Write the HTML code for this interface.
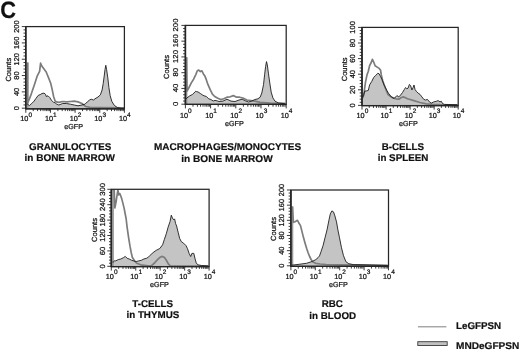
<!DOCTYPE html>
<html><head><meta charset="utf-8"><style>
html,body{margin:0;padding:0;background:#fff;}
body{width:520px;height:351px;overflow:hidden;}
svg{display:block;will-change:transform;}
text{font-family:"Liberation Sans", sans-serif;fill:#111;text-rendering:geometricPrecision;}
.sm{stroke:#111;stroke-width:0.22px;}
.bd{stroke:#111;stroke-width:0.2px;}
</style></head><body>
<svg width="520" height="351" viewBox="0 0 520 351">
<rect width="520" height="351" fill="#fff"/>
<clipPath id="cp1"><rect x="25.8" y="26.6" width="98.6" height="82.2"/></clipPath>
<g clip-path="url(#cp1)">
<polygon points="26.3,108.8 26.3,104 27.5,104.2 29.4,105.6 31.7,103.5 34,101.2 35.9,98.5 38.2,95.4 40.2,94.6 42,93.5 44,93.1 45.5,94.3 46.3,96.5 48,95.8 49.9,97.7 51.4,100.2 53.6,102.4 55,102.7 56.6,104 58.8,105 62.7,103.5 66.5,103.5 70.4,104.2 74.2,105 78,105.8 81.9,105 85,104.2 87.3,101.9 89.6,100 91.2,99.2 93.5,100 95,98.8 98,97 100.4,94.8 102.1,90 103.2,83.5 104.2,76.1 105,69.6 105.8,65.3 106.6,69.6 107.8,77.8 108.9,87.5 110.2,95.7 111.8,101.3 114.3,105.4 117.5,107.6 120.8,108.3 124,108.5 124,108.8" fill="#c4c4c4" stroke="none"/>
<line x1="27.6" y1="108.8" x2="27.6" y2="62.5" stroke="#9a9a9a" stroke-width="1.8"/>
<polyline points="27.6,62.5 27.6,103 29.4,99 31.4,93.6 34.4,84.7 37.3,75.8 39.6,71.3 40.6,63.2 41.8,66.1 44,69.1 46.2,72 48.4,77.3 50.7,83.2 52.1,89.1 53.6,96.5 55.1,101 56.5,101.9 58.8,102.3 62.7,101.5 66.5,101.9 70.4,101.5 74.2,101.2 78,101.9 81.9,103.5 84.2,105.4 85.8,106.5 90,107.3 100,107.6 124,107.9" fill="none" stroke="#7c7c7c" stroke-width="1.7" stroke-linejoin="round"/>
<polyline points="26.3,104 27.5,104.2 29.4,105.6 31.7,103.5 34,101.2 35.9,98.5 38.2,95.4 40.2,94.6 42,93.5 44,93.1 45.5,94.3 46.3,96.5 48,95.8 49.9,97.7 51.4,100.2 53.6,102.4 55,102.7 56.6,104 58.8,105 62.7,103.5 66.5,103.5 70.4,104.2 74.2,105 78,105.8 81.9,105 85,104.2 87.3,101.9 89.6,100 91.2,99.2 93.5,100 95,98.8 98,97 100.4,94.8 102.1,90 103.2,83.5 104.2,76.1 105,69.6 105.8,65.3 106.6,69.6 107.8,77.8 108.9,87.5 110.2,95.7 111.8,101.3 114.3,105.4 117.5,107.6 120.8,108.3 124,108.5" fill="none" stroke="#1e1e1e" stroke-width="0.9" stroke-linejoin="round"/>
</g>
<rect x="25.8" y="26.6" width="98.6" height="82.2" fill="none" stroke="#262626" stroke-width="1.25"/>
<line x1="25.8" y1="26.6" x2="25.8" y2="109.3" stroke="#262626" stroke-width="1.6"/>
<line x1="25.8" y1="108.8" x2="124.4" y2="108.8" stroke="#262626" stroke-width="1.3"/>
<path d="M25.8 108.2h-4M25.8 104.94h-2.3M25.8 101.67h-2.3M25.8 98.41h-2.3M25.8 95.14h-2.3M25.8 91.88h-4M25.8 88.62h-2.3M25.8 85.35h-2.3M25.8 82.09h-2.3M25.8 78.82h-2.3M25.8 75.56h-4M25.8 72.3h-2.3M25.8 69.03h-2.3M25.8 65.77h-2.3M25.8 62.5h-2.3M25.8 59.24h-4M25.8 55.98h-2.3M25.8 52.71h-2.3M25.8 49.45h-2.3M25.8 46.18h-2.3M25.8 42.92h-4M25.8 39.66h-2.3M25.8 36.39h-2.3M25.8 33.13h-2.3M25.8 29.86h-2.3M25.8 26.6h-4" stroke="#262626" stroke-width="0.9" fill="none"/>
<path d="M25.8 108.8v4M33.22 108.8v2.3M37.56 108.8v2.3M40.64 108.8v2.3M43.03 108.8v2.3M44.98 108.8v2.3M46.63 108.8v2.3M48.06 108.8v2.3M49.32 108.8v2.3M50.45 108.8v4M57.87 108.8v2.3M62.21 108.8v2.3M65.29 108.8v2.3M67.68 108.8v2.3M69.63 108.8v2.3M71.28 108.8v2.3M72.71 108.8v2.3M73.97 108.8v2.3M75.1 108.8v4M82.52 108.8v2.3M86.86 108.8v2.3M89.94 108.8v2.3M92.33 108.8v2.3M94.28 108.8v2.3M95.93 108.8v2.3M97.36 108.8v2.3M98.62 108.8v2.3M99.75 108.8v4M107.17 108.8v2.3M111.51 108.8v2.3M114.59 108.8v2.3M116.98 108.8v2.3M118.93 108.8v2.3M120.58 108.8v2.3M122.01 108.8v2.3M123.27 108.8v2.3M124.4 108.8v4" stroke="#262626" stroke-width="0.9" fill="none"/>
<text transform="translate(18.5 108.2) rotate(-90) scale(1.12 1.08)" class="sm" text-anchor="middle" font-size="6.6">0</text>
<text transform="translate(18.5 91.88) rotate(-90) scale(1.12 1.08)" class="sm" text-anchor="middle" font-size="6.6">40</text>
<text transform="translate(18.5 75.56) rotate(-90) scale(1.12 1.08)" class="sm" text-anchor="middle" font-size="6.6">80</text>
<text transform="translate(18.5 59.24) rotate(-90) scale(1.12 1.08)" class="sm" text-anchor="middle" font-size="6.6">120</text>
<text transform="translate(18.5 42.92) rotate(-90) scale(1.12 1.08)" class="sm" text-anchor="middle" font-size="6.6">160</text>
<text transform="translate(18.5 26.6) rotate(-90) scale(1.12 1.08)" class="sm" text-anchor="middle" font-size="6.6">200</text>
<text transform="translate(10.7 69.7) rotate(-90)" class="sm" text-anchor="middle" font-size="7.5">Counts</text>
<text x="26.2" y="121.2" font-size="7.3" class="sm" text-anchor="middle">10<tspan font-size="6.5" dy="-4.4">0</tspan></text>
<text x="50.85" y="121.2" font-size="7.3" class="sm" text-anchor="middle">10<tspan font-size="6.5" dy="-4.4">1</tspan></text>
<text x="75.5" y="121.2" font-size="7.3" class="sm" text-anchor="middle">10<tspan font-size="6.5" dy="-4.4">2</tspan></text>
<text x="100.15" y="121.2" font-size="7.3" class="sm" text-anchor="middle">10<tspan font-size="6.5" dy="-4.4">3</tspan></text>
<text x="124.8" y="121.2" font-size="7.3" class="sm" text-anchor="middle">10<tspan font-size="6.5" dy="-4.4">4</tspan></text>
<text x="73.6" y="129.2" font-size="7.2" class="sm" text-anchor="middle">eGFP</text>
<clipPath id="cp2"><rect x="185.4" y="25.4" width="100.8" height="79"/></clipPath>
<g clip-path="url(#cp2)">
<polygon points="185.9,104.4 185.9,99 186.8,98 189.8,95.8 192.4,94.5 195.8,91.2 196.4,91.5 198.1,92 200.4,93.5 202.6,95 204.1,95.8 206.4,96.5 208.7,98.8 210.9,99.5 213.2,101 215,100.4 217.7,101 219,101.5 223,101.1 227,99.2 231,101.1 235,101.5 239,100 242.1,99.2 245.3,100.8 248.5,102 251.7,101.1 254.6,99.6 257.9,98.8 260.2,97.1 261.8,93 263.5,84.7 264.6,74.8 265.6,66.5 266.5,61.6 267.3,64.9 268.4,73.1 269.8,83.1 271.2,92.1 272.9,97.9 275,101.2 278.4,102.9 284.4,103.7 285.6,104 285.6,104.4" fill="#c4c4c4" stroke="none"/>
<line x1="186.5" y1="104.4" x2="186.5" y2="57.3" stroke="#9a9a9a" stroke-width="1.8"/>
<polyline points="186.5,57.3 187,91.2 189,87.5 191.3,82.9 193.6,79.2 195.8,74.6 197.3,70.8 198.8,70.1 200.4,71.6 201.9,70.8 203.4,73.9 204.9,76.1 206.4,79.9 207.9,84.4 210.2,89.7 212.4,94.2 214.7,96.5 217.4,98 220.6,99.6 223.8,98.8 227,97.2 230.2,96.8 233.4,95.6 236.5,97.2 239.7,97.2 242.9,98 246.9,100 250.9,100.6 255,101.2 260,102.3 270,103 285,103.4" fill="none" stroke="#7c7c7c" stroke-width="1.7" stroke-linejoin="round"/>
<polyline points="185.9,99 186.8,98 189.8,95.8 192.4,94.5 195.8,91.2 196.4,91.5 198.1,92 200.4,93.5 202.6,95 204.1,95.8 206.4,96.5 208.7,98.8 210.9,99.5 213.2,101 215,100.4 217.7,101 219,101.5 223,101.1 227,99.2 231,101.1 235,101.5 239,100 242.1,99.2 245.3,100.8 248.5,102 251.7,101.1 254.6,99.6 257.9,98.8 260.2,97.1 261.8,93 263.5,84.7 264.6,74.8 265.6,66.5 266.5,61.6 267.3,64.9 268.4,73.1 269.8,83.1 271.2,92.1 272.9,97.9 275,101.2 278.4,102.9 284.4,103.7 285.6,104" fill="none" stroke="#1e1e1e" stroke-width="0.9" stroke-linejoin="round"/>
</g>
<rect x="185.4" y="25.4" width="100.8" height="79" fill="none" stroke="#262626" stroke-width="1.25"/>
<line x1="185.4" y1="25.4" x2="185.4" y2="104.9" stroke="#262626" stroke-width="1.6"/>
<line x1="185.4" y1="104.4" x2="286.2" y2="104.4" stroke="#262626" stroke-width="1.3"/>
<path d="M185.4 104.2h-4M185.4 101.05h-2.3M185.4 97.9h-2.3M185.4 94.74h-2.3M185.4 91.59h-2.3M185.4 88.44h-4M185.4 85.29h-2.3M185.4 82.14h-2.3M185.4 78.98h-2.3M185.4 75.83h-2.3M185.4 72.68h-4M185.4 69.53h-2.3M185.4 66.38h-2.3M185.4 63.22h-2.3M185.4 60.07h-2.3M185.4 56.92h-4M185.4 53.77h-2.3M185.4 50.62h-2.3M185.4 47.46h-2.3M185.4 44.31h-2.3M185.4 41.16h-4M185.4 38.01h-2.3M185.4 34.86h-2.3M185.4 31.7h-2.3M185.4 28.55h-2.3M185.4 25.4h-4" stroke="#262626" stroke-width="0.9" fill="none"/>
<path d="M185.4 104.4v4M192.99 104.4v2.3M197.42 104.4v2.3M200.57 104.4v2.3M203.01 104.4v2.3M205.01 104.4v2.3M206.7 104.4v2.3M208.16 104.4v2.3M209.45 104.4v2.3M210.6 104.4v4M218.19 104.4v2.3M222.62 104.4v2.3M225.77 104.4v2.3M228.21 104.4v2.3M230.21 104.4v2.3M231.9 104.4v2.3M233.36 104.4v2.3M234.65 104.4v2.3M235.8 104.4v4M243.39 104.4v2.3M247.82 104.4v2.3M250.97 104.4v2.3M253.41 104.4v2.3M255.41 104.4v2.3M257.1 104.4v2.3M258.56 104.4v2.3M259.85 104.4v2.3M261 104.4v4M268.59 104.4v2.3M273.02 104.4v2.3M276.17 104.4v2.3M278.61 104.4v2.3M280.61 104.4v2.3M282.3 104.4v2.3M283.76 104.4v2.3M285.05 104.4v2.3M286.2 104.4v4" stroke="#262626" stroke-width="0.9" fill="none"/>
<text transform="translate(178.4 103.8) rotate(-90) scale(1.17 1.08)" class="sm" text-anchor="middle" font-size="6.6">0</text>
<text transform="translate(178.4 88.04) rotate(-90) scale(1.17 1.08)" class="sm" text-anchor="middle" font-size="6.6">40</text>
<text transform="translate(178.4 72.28) rotate(-90) scale(1.17 1.08)" class="sm" text-anchor="middle" font-size="6.6">80</text>
<text transform="translate(178.4 56.52) rotate(-90) scale(1.17 1.08)" class="sm" text-anchor="middle" font-size="6.6">120</text>
<text transform="translate(178.4 40.76) rotate(-90) scale(1.17 1.08)" class="sm" text-anchor="middle" font-size="6.6">160</text>
<text transform="translate(178.4 25) rotate(-90) scale(1.17 1.08)" class="sm" text-anchor="middle" font-size="6.6">200</text>
<text transform="translate(168.6 67) rotate(-90)" class="sm" text-anchor="middle" font-size="7.5">Counts</text>
<text x="185.8" y="117.5" font-size="7.3" class="sm" text-anchor="middle">10<tspan font-size="6.5" dy="-4.6">0</tspan></text>
<text x="211" y="117.5" font-size="7.3" class="sm" text-anchor="middle">10<tspan font-size="6.5" dy="-4.6">1</tspan></text>
<text x="236.2" y="117.5" font-size="7.3" class="sm" text-anchor="middle">10<tspan font-size="6.5" dy="-4.6">2</tspan></text>
<text x="261.4" y="117.5" font-size="7.3" class="sm" text-anchor="middle">10<tspan font-size="6.5" dy="-4.6">3</tspan></text>
<text x="286.6" y="117.5" font-size="7.3" class="sm" text-anchor="middle">10<tspan font-size="6.5" dy="-4.6">4</tspan></text>
<text x="234.3" y="125.9" font-size="7.2" class="sm" text-anchor="middle">eGFP</text>
<clipPath id="cp3"><rect x="362" y="27.4" width="96.2" height="78.2"/></clipPath>
<g clip-path="url(#cp3)">
<polygon points="362.4,105.6 362.4,97.5 363.5,95.8 364.8,91 366.2,91 368.3,90.4 369.6,84.9 371.7,81.5 373.8,77.3 375.8,75.3 377.9,73.2 379.2,73.9 380.6,76.7 382,79.4 384,84.9 386.8,90.4 388.5,93.3 391.4,97 394.1,98.5 396.9,95.6 398.8,96.9 400.6,95 402.5,92.5 404.4,89.4 405.6,87.5 406.9,88.8 408.1,88.1 409.4,84.4 410.6,85.6 411.9,90 413.1,87.5 414,85 415,89.4 416.3,91.3 418.1,93.1 420,94.4 421.9,96.9 423.8,99.4 425.6,100 427.5,99.4 429.4,101.9 431.3,103.1 433.8,101.9 436.3,101.3 438.1,100.6 440,101.9 441.3,101.3 442.5,103.5 444.4,104.4 457.5,104.8 457.5,105.6" fill="#c4c4c4" stroke="none"/>
<polyline points="362.8,98 364.2,91.7 365.5,82.1 366.9,75.3 368.3,71.2 369.6,65.7 371,63 372.4,59.3 373.8,62.3 375.1,65.7 377.2,67.1 379.2,68.4 380.6,70.3 381.3,75 382.7,80.8 384.7,86.2 386.8,91.7 388,94.5 390.5,96.4 393.2,97.9 395.9,98.8 398.8,99.2 401.3,97.5 403.8,96.9 407.5,98.8 413.8,100.6 420,102.5 426.3,103.8 432.5,104.4 440,104.7 457.5,104.9" fill="none" stroke="#7c7c7c" stroke-width="1.7" stroke-linejoin="round"/>
<polyline points="362.4,97.5 363.5,95.8 364.8,91 366.2,91 368.3,90.4 369.6,84.9 371.7,81.5 373.8,77.3 375.8,75.3 377.9,73.2 379.2,73.9 380.6,76.7 382,79.4 384,84.9 386.8,90.4 388.5,93.3 391.4,97 394.1,98.5 396.9,95.6 398.8,96.9 400.6,95 402.5,92.5 404.4,89.4 405.6,87.5 406.9,88.8 408.1,88.1 409.4,84.4 410.6,85.6 411.9,90 413.1,87.5 414,85 415,89.4 416.3,91.3 418.1,93.1 420,94.4 421.9,96.9 423.8,99.4 425.6,100 427.5,99.4 429.4,101.9 431.3,103.1 433.8,101.9 436.3,101.3 438.1,100.6 440,101.9 441.3,101.3 442.5,103.5 444.4,104.4 457.5,104.8" fill="none" stroke="#1e1e1e" stroke-width="0.9" stroke-linejoin="round"/>
</g>
<rect x="362" y="27.4" width="96.2" height="78.2" fill="none" stroke="#262626" stroke-width="1.25"/>
<line x1="362" y1="27.4" x2="362" y2="106.1" stroke="#262626" stroke-width="1.6"/>
<line x1="362" y1="105.6" x2="458.2" y2="105.6" stroke="#262626" stroke-width="1.3"/>
<path d="M362 105.4h-4M362 102.28h-2.3M362 99.16h-2.3M362 96.04h-2.3M362 92.92h-2.3M362 89.8h-4M362 86.68h-2.3M362 83.56h-2.3M362 80.44h-2.3M362 77.32h-2.3M362 74.2h-4M362 71.08h-2.3M362 67.96h-2.3M362 64.84h-2.3M362 61.72h-2.3M362 58.6h-4M362 55.48h-2.3M362 52.36h-2.3M362 49.24h-2.3M362 46.12h-2.3M362 43h-4M362 39.88h-2.3M362 36.76h-2.3M362 33.64h-2.3M362 30.52h-2.3M362 27.4h-4" stroke="#262626" stroke-width="0.9" fill="none"/>
<path d="M362 105.6v4M369.24 105.6v2.3M373.47 105.6v2.3M376.48 105.6v2.3M378.81 105.6v2.3M380.71 105.6v2.3M382.32 105.6v2.3M383.72 105.6v2.3M384.95 105.6v2.3M386.05 105.6v4M393.29 105.6v2.3M397.52 105.6v2.3M400.53 105.6v2.3M402.86 105.6v2.3M404.76 105.6v2.3M406.37 105.6v2.3M407.77 105.6v2.3M409 105.6v2.3M410.1 105.6v4M417.34 105.6v2.3M421.57 105.6v2.3M424.58 105.6v2.3M426.91 105.6v2.3M428.81 105.6v2.3M430.42 105.6v2.3M431.82 105.6v2.3M433.05 105.6v2.3M434.15 105.6v4M441.39 105.6v2.3M445.62 105.6v2.3M448.63 105.6v2.3M450.96 105.6v2.3M452.86 105.6v2.3M454.47 105.6v2.3M455.87 105.6v2.3M457.1 105.6v2.3M458.2 105.6v4" stroke="#262626" stroke-width="0.9" fill="none"/>
<text transform="translate(355 105.4) rotate(-90) scale(1.1 1.08)" class="sm" text-anchor="middle" font-size="6.8">0</text>
<text transform="translate(355 89.8) rotate(-90) scale(1.1 1.08)" class="sm" text-anchor="middle" font-size="6.8">20</text>
<text transform="translate(355 74.2) rotate(-90) scale(1.1 1.08)" class="sm" text-anchor="middle" font-size="6.8">40</text>
<text transform="translate(355 58.6) rotate(-90) scale(1.1 1.08)" class="sm" text-anchor="middle" font-size="6.8">60</text>
<text transform="translate(355 43) rotate(-90) scale(1.1 1.08)" class="sm" text-anchor="middle" font-size="6.8">80</text>
<text transform="translate(355 27.4) rotate(-90) scale(1.1 1.08)" class="sm" text-anchor="middle" font-size="6.8">100</text>
<text transform="translate(346.5 69.4) rotate(-90)" class="sm" text-anchor="middle" font-size="7.5">Counts</text>
<text x="362.4" y="118.3" font-size="7.3" class="sm" text-anchor="middle">10<tspan font-size="6.5" dy="-5">0</tspan></text>
<text x="386.45" y="118.3" font-size="7.3" class="sm" text-anchor="middle">10<tspan font-size="6.5" dy="-5">1</tspan></text>
<text x="410.5" y="118.3" font-size="7.3" class="sm" text-anchor="middle">10<tspan font-size="6.5" dy="-5">2</tspan></text>
<text x="434.55" y="118.3" font-size="7.3" class="sm" text-anchor="middle">10<tspan font-size="6.5" dy="-5">3</tspan></text>
<text x="458.6" y="118.3" font-size="7.3" class="sm" text-anchor="middle">10<tspan font-size="6.5" dy="-5">4</tspan></text>
<text x="408.3" y="126.1" font-size="7.2" class="sm" text-anchor="middle">eGFP</text>
<clipPath id="cp4"><rect x="111.3" y="189.3" width="97.8" height="77.3"/></clipPath>
<g clip-path="url(#cp4)">
<polygon points="112.4,266.6 112.4,262 113.1,262.2 114.9,260.6 115.7,260.9 118.3,259.6 120.8,259 123.4,257.7 125.3,256.4 127.2,258.3 129.2,259 131.7,260.3 133.6,260.9 136.2,261.5 138.8,260.9 141.3,260.3 143.9,259 146.5,258.3 148.7,256.9 152.4,253.1 156.1,250.4 159.8,248.5 162.6,244.8 164.4,239.3 166.3,233.7 168.1,227.2 170,221.7 171.3,215.2 172.4,218 173.7,219.8 174.6,218.9 175.6,223.5 176.6,226 178.1,232.2 179.7,238.5 181.3,241.6 183.6,243.2 186,245.6 187.5,248.7 189.1,253.4 190.7,256.5 191.9,253.4 193.8,253.4 195.1,258.9 196.2,262.8 197.7,264.8 201.6,265.5 208.5,266 208.5,266.6" fill="#c4c4c4" stroke="none"/>
<line x1="113" y1="266.6" x2="113" y2="189.6" stroke="#9a9a9a" stroke-width="1.8"/>
<polyline points="113,189.6 114.2,190 114.8,208 116,202.3 117.3,193.5 117.9,189.8 118.6,194.8 119.8,193.5 120.8,196 121.7,198.6 123,203.6 124.2,208.6 125.2,214 126.1,218.5 127.1,227.1 128.6,237.6 130.1,246.7 131.2,252.5 132.3,257.3 134.6,261 136.9,263.3 140.6,264.8 148,265.8 151.5,265.6 154.5,263 157.5,259.6 160,257.3 162.3,256.4 164.5,257.6 166.5,260.5 168.3,263.8 170.3,265.8 208.5,266" fill="none" stroke="#7c7c7c" stroke-width="1.7" stroke-linejoin="round"/>
<polyline points="112.4,262 113.1,262.2 114.9,260.6 115.7,260.9 118.3,259.6 120.8,259 123.4,257.7 125.3,256.4 127.2,258.3 129.2,259 131.7,260.3 133.6,260.9 136.2,261.5 138.8,260.9 141.3,260.3 143.9,259 146.5,258.3 148.7,256.9 152.4,253.1 156.1,250.4 159.8,248.5 162.6,244.8 164.4,239.3 166.3,233.7 168.1,227.2 170,221.7 171.3,215.2 172.4,218 173.7,219.8 174.6,218.9 175.6,223.5 176.6,226 178.1,232.2 179.7,238.5 181.3,241.6 183.6,243.2 186,245.6 187.5,248.7 189.1,253.4 190.7,256.5 191.9,253.4 193.8,253.4 195.1,258.9 196.2,262.8 197.7,264.8 201.6,265.5 208.5,266" fill="none" stroke="#1e1e1e" stroke-width="0.9" stroke-linejoin="round"/>
</g>
<rect x="111.3" y="189.3" width="97.8" height="77.3" fill="none" stroke="#262626" stroke-width="1.25"/>
<line x1="111.3" y1="189.3" x2="111.3" y2="267.1" stroke="#262626" stroke-width="1.6"/>
<line x1="111.3" y1="266.6" x2="209.1" y2="266.6" stroke="#262626" stroke-width="1.3"/>
<path d="M111.3 266.3h-4M111.3 263.22h-2.3M111.3 260.14h-2.3M111.3 257.06h-2.3M111.3 253.98h-2.3M111.3 250.9h-4M111.3 247.82h-2.3M111.3 244.74h-2.3M111.3 241.66h-2.3M111.3 238.58h-2.3M111.3 235.5h-4M111.3 232.42h-2.3M111.3 229.34h-2.3M111.3 226.26h-2.3M111.3 223.18h-2.3M111.3 220.1h-4M111.3 217.02h-2.3M111.3 213.94h-2.3M111.3 210.86h-2.3M111.3 207.78h-2.3M111.3 204.7h-4M111.3 201.62h-2.3M111.3 198.54h-2.3M111.3 195.46h-2.3M111.3 192.38h-2.3M111.3 189.3h-4" stroke="#262626" stroke-width="0.9" fill="none"/>
<path d="M111.3 266.6v4M118.66 266.6v2.3M122.97 266.6v2.3M126.02 266.6v2.3M128.39 266.6v2.3M130.33 266.6v2.3M131.96 266.6v2.3M133.38 266.6v2.3M134.63 266.6v2.3M135.75 266.6v4M143.11 266.6v2.3M147.42 266.6v2.3M150.47 266.6v2.3M152.84 266.6v2.3M154.78 266.6v2.3M156.41 266.6v2.3M157.83 266.6v2.3M159.08 266.6v2.3M160.2 266.6v4M167.56 266.6v2.3M171.87 266.6v2.3M174.92 266.6v2.3M177.29 266.6v2.3M179.23 266.6v2.3M180.86 266.6v2.3M182.28 266.6v2.3M183.53 266.6v2.3M184.65 266.6v4M192.01 266.6v2.3M196.32 266.6v2.3M199.37 266.6v2.3M201.74 266.6v2.3M203.68 266.6v2.3M205.31 266.6v2.3M206.73 266.6v2.3M207.98 266.6v2.3M209.1 266.6v4" stroke="#262626" stroke-width="0.9" fill="none"/>
<text transform="translate(104.9 266.3) rotate(-90) scale(1.12 1.08)" class="sm" text-anchor="middle" font-size="6.8">0</text>
<text transform="translate(104.9 250.9) rotate(-90) scale(1.12 1.08)" class="sm" text-anchor="middle" font-size="6.8">60</text>
<text transform="translate(104.9 235.5) rotate(-90) scale(1.12 1.08)" class="sm" text-anchor="middle" font-size="6.8">120</text>
<text transform="translate(104.9 220.1) rotate(-90) scale(1.12 1.08)" class="sm" text-anchor="middle" font-size="6.8">180</text>
<text transform="translate(104.9 204.7) rotate(-90) scale(1.12 1.08)" class="sm" text-anchor="middle" font-size="6.8">240</text>
<text transform="translate(104.9 189.3) rotate(-90) scale(1.12 1.08)" class="sm" text-anchor="middle" font-size="6.8">300</text>
<text transform="translate(96.8 230) rotate(-90)" class="sm" text-anchor="middle" font-size="7.5">Counts</text>
<text x="111.7" y="279.1" font-size="7.3" class="sm" text-anchor="middle">10<tspan font-size="6.5" dy="-4.7">0</tspan></text>
<text x="136.15" y="279.1" font-size="7.3" class="sm" text-anchor="middle">10<tspan font-size="6.5" dy="-4.7">1</tspan></text>
<text x="160.6" y="279.1" font-size="7.3" class="sm" text-anchor="middle">10<tspan font-size="6.5" dy="-4.7">2</tspan></text>
<text x="185.05" y="279.1" font-size="7.3" class="sm" text-anchor="middle">10<tspan font-size="6.5" dy="-4.7">3</tspan></text>
<text x="209.5" y="279.1" font-size="7.3" class="sm" text-anchor="middle">10<tspan font-size="6.5" dy="-4.7">4</tspan></text>
<text x="159.5" y="286.8" font-size="7.2" class="sm" text-anchor="middle">eGFP</text>
<clipPath id="cp5"><rect x="290.9" y="190" width="97.6" height="76.3"/></clipPath>
<g clip-path="url(#cp5)">
<polygon points="291.5,266.3 291.5,265.2 299.1,264.3 306.5,263.3 312.1,261.5 315.8,259.6 318,257.7 319.5,255.9 321,251.7 323,245.8 325,237.8 327,229.9 329,219.9 330.3,213.9 331.9,210.9 333.5,211.9 334.9,215.9 336.5,221.9 337.9,229.9 339.5,237.8 341.5,247.8 343.5,255.7 345.9,261.7 348.8,263.7 353.8,264.7 358,264.7 387.8,265.5 387.8,266.3" fill="#c4c4c4" stroke="none"/>
<line x1="292.4" y1="266.3" x2="292.4" y2="206.4" stroke="#9a9a9a" stroke-width="1.8"/>
<polyline points="292.4,206.4 293.4,222.3 295.1,221.7 296.8,220.6 297.5,220.3 299,223.3 300.5,225.6 302,231.6 303.5,237.6 305,242.9 306.6,248.2 308.1,252.7 309.6,256.5 311.1,259.5 312.6,261.8 315.6,263.3 320.1,264 326,264.5 340,264.9 387.8,265.3" fill="none" stroke="#7c7c7c" stroke-width="1.7" stroke-linejoin="round"/>
<polyline points="291.5,265.2 299.1,264.3 306.5,263.3 312.1,261.5 315.8,259.6 318,257.7 319.5,255.9 321,251.7 323,245.8 325,237.8 327,229.9 329,219.9 330.3,213.9 331.9,210.9 333.5,211.9 334.9,215.9 336.5,221.9 337.9,229.9 339.5,237.8 341.5,247.8 343.5,255.7 345.9,261.7 348.8,263.7 353.8,264.7 358,264.7 387.8,265.5" fill="none" stroke="#1e1e1e" stroke-width="0.9" stroke-linejoin="round"/>
</g>
<rect x="290.9" y="190" width="97.6" height="76.3" fill="none" stroke="#262626" stroke-width="1.25"/>
<line x1="290.9" y1="190" x2="290.9" y2="266.8" stroke="#262626" stroke-width="1.6"/>
<line x1="290.9" y1="266.3" x2="388.5" y2="266.3" stroke="#262626" stroke-width="1.3"/>
<path d="M290.9 265.8h-4M290.9 262.77h-2.3M290.9 259.74h-2.3M290.9 256.7h-2.3M290.9 253.67h-2.3M290.9 250.64h-4M290.9 247.61h-2.3M290.9 244.58h-2.3M290.9 241.54h-2.3M290.9 238.51h-2.3M290.9 235.48h-4M290.9 232.45h-2.3M290.9 229.42h-2.3M290.9 226.38h-2.3M290.9 223.35h-2.3M290.9 220.32h-4M290.9 217.29h-2.3M290.9 214.26h-2.3M290.9 211.22h-2.3M290.9 208.19h-2.3M290.9 205.16h-4M290.9 202.13h-2.3M290.9 199.1h-2.3M290.9 196.06h-2.3M290.9 193.03h-2.3M290.9 190h-4" stroke="#262626" stroke-width="0.9" fill="none"/>
<path d="M290.9 266.3v4M298.25 266.3v2.3M302.54 266.3v2.3M305.59 266.3v2.3M307.95 266.3v2.3M309.89 266.3v2.3M311.52 266.3v2.3M312.94 266.3v2.3M314.18 266.3v2.3M315.3 266.3v4M322.65 266.3v2.3M326.94 266.3v2.3M329.99 266.3v2.3M332.35 266.3v2.3M334.29 266.3v2.3M335.92 266.3v2.3M337.34 266.3v2.3M338.58 266.3v2.3M339.7 266.3v4M347.05 266.3v2.3M351.34 266.3v2.3M354.39 266.3v2.3M356.75 266.3v2.3M358.69 266.3v2.3M360.32 266.3v2.3M361.74 266.3v2.3M362.98 266.3v2.3M364.1 266.3v4M371.45 266.3v2.3M375.74 266.3v2.3M378.79 266.3v2.3M381.15 266.3v2.3M383.09 266.3v2.3M384.72 266.3v2.3M386.14 266.3v2.3M387.38 266.3v2.3M388.5 266.3v4" stroke="#262626" stroke-width="0.9" fill="none"/>
<text transform="translate(284 265.8) rotate(-90) scale(1.08 1.08)" class="sm" text-anchor="middle" font-size="6.8">0</text>
<text transform="translate(284 250.64) rotate(-90) scale(1.08 1.08)" class="sm" text-anchor="middle" font-size="6.8">40</text>
<text transform="translate(284 235.48) rotate(-90) scale(1.08 1.08)" class="sm" text-anchor="middle" font-size="6.8">80</text>
<text transform="translate(284 220.32) rotate(-90) scale(1.08 1.08)" class="sm" text-anchor="middle" font-size="6.8">120</text>
<text transform="translate(284 205.16) rotate(-90) scale(1.08 1.08)" class="sm" text-anchor="middle" font-size="6.8">160</text>
<text transform="translate(284 190) rotate(-90) scale(1.08 1.08)" class="sm" text-anchor="middle" font-size="6.8">200</text>
<text transform="translate(275.6 229) rotate(-90)" class="sm" text-anchor="middle" font-size="7.5">Counts</text>
<text x="291.3" y="279" font-size="7.3" class="sm" text-anchor="middle">10<tspan font-size="6.5" dy="-4.7">0</tspan></text>
<text x="315.7" y="279" font-size="7.3" class="sm" text-anchor="middle">10<tspan font-size="6.5" dy="-4.7">1</tspan></text>
<text x="340.1" y="279" font-size="7.3" class="sm" text-anchor="middle">10<tspan font-size="6.5" dy="-4.7">2</tspan></text>
<text x="364.5" y="279" font-size="7.3" class="sm" text-anchor="middle">10<tspan font-size="6.5" dy="-4.7">3</tspan></text>
<text x="388.9" y="279" font-size="7.3" class="sm" text-anchor="middle">10<tspan font-size="6.5" dy="-4.7">4</tspan></text>
<text x="338.3" y="286.8" font-size="7.2" class="sm" text-anchor="middle">eGFP</text>
<text transform="translate(70.15 150) scale(1 1)" font-size="9.8" font-weight="bold" class="bd" text-anchor="middle">GRANULOCYTES</text>
<text transform="translate(69.75 161.2) scale(1.02 1)" font-size="9.8" font-weight="bold" class="bd" text-anchor="middle">in BONE MARROW</text>
<text transform="translate(227.6 150.2) scale(1.02 1)" font-size="9.8" font-weight="bold" class="bd" text-anchor="middle">MACROPHAGES/MONOCYTES</text>
<text transform="translate(227 161.9) scale(1.03 1)" font-size="9.8" font-weight="bold" class="bd" text-anchor="middle">in BONE MARROW</text>
<text transform="translate(402.85 150.2) scale(1 1)" font-size="9.8" font-weight="bold" class="bd" text-anchor="middle">B-CELLS</text>
<text transform="translate(403 161.1) scale(1 1)" font-size="9.8" font-weight="bold" class="bd" text-anchor="middle">in SPLEEN</text>
<text transform="translate(152.7 306.6) scale(1 1)" font-size="9.8" font-weight="bold" class="bd" text-anchor="middle">T-CELLS</text>
<text transform="translate(152.85 318.2) scale(1 1)" font-size="9.8" font-weight="bold" class="bd" text-anchor="middle">in THYMUS</text>
<text transform="translate(332.3 307) scale(1 1)" font-size="9.8" font-weight="bold" class="bd" text-anchor="middle">RBC</text>
<text transform="translate(332.7 318.5) scale(1 1)" font-size="9.8" font-weight="bold" class="bd" text-anchor="middle">in BLOOD</text>
<text transform="translate(0.2 17.8) scale(0.95 1.03)" font-size="23" font-weight="bold" class="bd">C</text>
<line x1="418" y1="326.8" x2="446.4" y2="326.8" stroke="#8a8a8a" stroke-width="1.1"/>
<rect x="417.8" y="341.7" width="29.4" height="3.8" fill="#c0c0c0" stroke="#3a3a3a" stroke-width="0.9"/>
<text x="456.0" y="328.9" font-size="9.8" font-weight="bold" class="bd">LeGFPSN</text>
<text transform="translate(456.0 348.9) scale(1.03 1)" font-size="9.8" font-weight="bold" class="bd">MNDeGFPSN</text>
</svg>
</body></html>
